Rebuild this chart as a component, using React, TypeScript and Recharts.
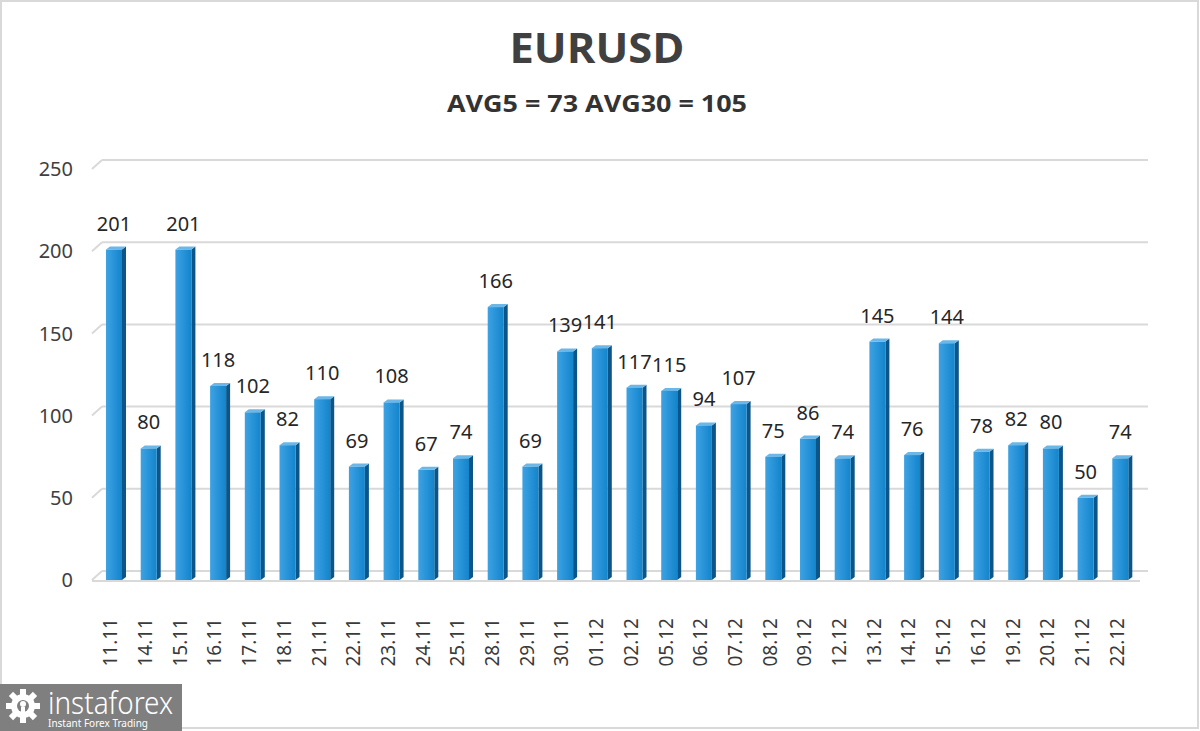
import React from "react"
import { Bar, BarChart, CartesianGrid, LabelList, XAxis, YAxis } from "recharts"

const dates = [
  "11.11", "14.11", "15.11", "16.11", "17.11", "18.11", "21.11", "22.11", "23.11", "24.11",
  "25.11", "28.11", "29.11", "30.11", "01.12", "02.12", "05.12", "06.12", "07.12", "08.12",
  "09.12", "12.12", "13.12", "14.12", "15.12", "16.12", "19.12", "20.12", "21.12", "22.12",
]
const volatility = [
  201, 80, 201, 118, 102, 82, 110, 69, 108, 67,
  74, 166, 69, 139, 141, 117, 115, 94, 107, 75,
  86, 74, 145, 76, 144, 78, 82, 80, 50, 74,
]
const yTicks = [0, 50, 100, 150, 200, 250]
const title = "EURUSD"
const subtitle = "AVG5 = 73 AVG30 = 105"

const data = dates.map((d, i) => ({ date: d, value: volatility[i] }))

const FONT = "'Noto Sans', 'Open Sans', sans-serif"

function Bar3D(props: any) {
  const { x, y, width, height } = props
  if (height <= 0) return null
  const d = 4
  const r = 3
  return (
    <g>
      <polygon
        points={`${x + width},${y} ${x + width + d},${y - r} ${x + width + d},${y + height - r} ${x + width},${y + height}`}
        fill="#0c5588"
      />
      <polygon
        points={`${x},${y} ${x + d},${y - r} ${x + width + d},${y - r} ${x + width},${y}`}
        fill="#6ab7e8"
      />
      <rect x={x} y={y} width={width} height={height} fill="url(#barFront)" />
    </g>
  )
}

function GridLine(props: any) {
  const { x1, x2, y1 } = props
  const back = 9
  const shift = 10
  return (
    <g>
      <line x1={x1 - 5} y1={y1} x2={x1 + shift - 5} y2={y1 - back} stroke="#d9d9d9" strokeWidth={2} />
      <line x1={x1 + shift - 5} y1={y1 - back} x2={x2 + shift} y2={y1 - back} stroke="#d9d9d9" strokeWidth={2} />
      {Math.abs(y1 - 580) < 2 && (
        <line x1={x1 - 5} y1={y1 + 1} x2={x2 + 2} y2={y1 + 1} stroke="#d9d9d9" strokeWidth={2} />
      )}
    </g>
  )
}

function DateTick(props: any) {
  const { x, y, payload } = props
  return (
    <text
      transform={`translate(${x - 4},${y + 30}) rotate(-90)`}
      textAnchor="end"
      dominantBaseline="central"
      fontSize={19}
      fontFamily={FONT}
      fill="#3a3a3a"
    >
      {payload.value}
    </text>
  )
}

function Logo() {
  const teeth = Array.from({ length: 8 }, (_, i) => i * 45)
  return (
    <div
      style={{
        position: "absolute",
        left: 0,
        top: 684,
        width: 182,
        height: 47,
        background: "#7f7f7f",
      }}
    >
      <svg width={182} height={47} style={{ overflow: "visible" }}>
        <g transform="translate(23,22)">
          {teeth.map((a) => (
            <rect key={a} x={-3} y={-17} width={6} height={8} fill="#fff" transform={`rotate(${a})`} />
          ))}
          <circle r={12} fill="#fff" />
          <circle r={6} fill="#7f7f7f" />
          <circle cy={-2} r={3} fill="#fff" />
          <rect x={-2} y={1} width={4} height={12} fill="#fff" />
        </g>
        <text
          x={48}
          y={30}
          fontSize={31}
          fontFamily={FONT}
          fontWeight={300}
          fill="#fff"
          textLength={125}
          lengthAdjust="spacingAndGlyphs"
        >
          instaforex
        </text>
        <text
          x={48}
          y={43}
          fontSize={11}
          fontFamily={FONT}
          fill="#fff"
          textLength={100}
          lengthAdjust="spacingAndGlyphs"
        >
          Instant Forex Trading
        </text>
      </svg>
    </div>
  )
}

function Titles() {
  return (
    <svg width={1200} height={130} style={{ position: "absolute", left: 0, top: 0 }}>
      <text
        x={597}
        y={63}
        textAnchor="middle"
        fontFamily="'Open Sans', sans-serif"
        fontWeight={700}
        fontSize={41}
        fill="#404040"
        textLength={175}
        lengthAdjust="spacingAndGlyphs"
      >
        {title}
      </text>
      <text
        x={597}
        y={112}
        textAnchor="middle"
        fontFamily="'Open Sans', sans-serif"
        fontWeight={700}
        fontSize={24}
        fill="#333333"
        textLength={300}
        lengthAdjust="spacingAndGlyphs"
      >
        {subtitle}
      </text>
    </svg>
  )
}

export default function App() {
  return (
    <div
      style={{
        position: "absolute",
        left: 0,
        top: 0,
        width: 1200,
        height: 731,
        background: "#fff",
        overflow: "hidden",
      }}
    >
      <div
        style={{
          position: "absolute",
          left: 0,
          top: 0,
          width: 1195,
          height: 725,
          border: "2px solid #d9d9d9",
        }}
      />
      <Titles />
      <div style={{ position: "absolute", left: 0, top: 0 }}>
        <BarChart
          width={1200}
          height={731}
          data={data}
          margin={{ top: 169, right: 62, bottom: 0, left: 0 }}
          barCategoryGap={0}
        >
          <defs>
            <linearGradient id="barFront" x1="0" y1="0" x2="1" y2="0">
              <stop offset="0%" stopColor="#3ea2e3" />
              <stop offset="100%" stopColor="#1384cc" />
            </linearGradient>
          </defs>
          <CartesianGrid vertical={false} horizontal={(p: any) => <GridLine {...p} />} />
          <XAxis
            dataKey="date"
            interval={0}
            height={151}
            tickLine={false}
            axisLine={false}
            tick={<DateTick />}
          />
          <YAxis
            domain={[0, 250]}
            ticks={yTicks}
            width={97}
            tickLine={false}
            axisLine={false}
            tickMargin={18}
            tick={{ fill: "#404040", fontSize: 20, fontFamily: FONT }}
          />
          <Bar dataKey="value" barSize={16} shape={<Bar3D />} isAnimationActive={false}>
            <LabelList
              dataKey="value"
              position="top"
              offset={19}
              fill="#262626"
              fontSize={20}
              fontFamily={FONT}
            />
          </Bar>
        </BarChart>
      </div>
      <Logo />
    </div>
  )
}
